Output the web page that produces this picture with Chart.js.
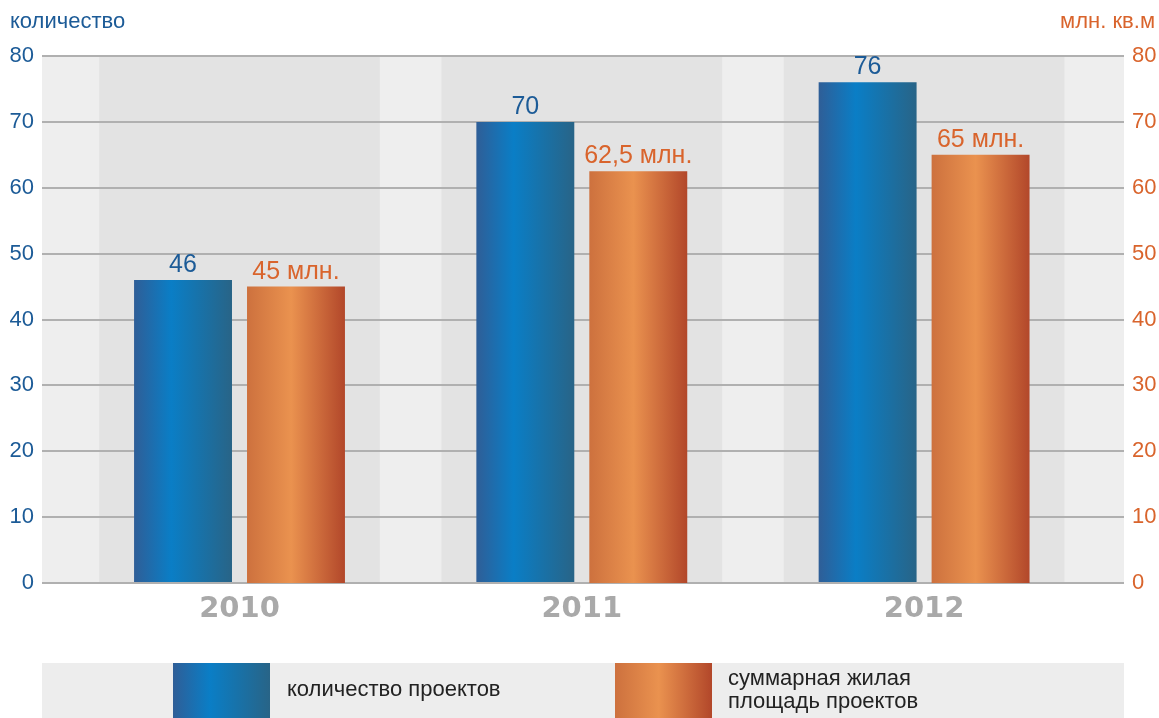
<!DOCTYPE html>
<html>
<head>
<meta charset="utf-8">
<script src="https://cdn.jsdelivr.net/npm/chart.js@4/dist/chart.umd.min.js"></script>
<style>
    html, body { margin: 0; padding: 0; background: #ffffff; }
    #wrap { width: 1159px; height: 718px; position: relative; }
</style>
</head>
<body>
<div id="wrap"><canvas id="chart"></canvas></div>
<script>
// Chart values
const years = ['2010', '2011', '2012'];
const projectCounts = [46, 70, 76];
const areaMillions = [45, 62.5, 65];
const yTicks = [0, 10, 20, 30, 40, 50, 60, 70, 80];
const seriesNames = [['количество проектов'], ['суммарная жилая', 'площадь проектов']];
const axisTitles = ['количество', 'млн. кв.м'];

const BLUE = '#1c5b97';
const ORANGE = '#d9642c';
const CAT_PCT = 0.66;
const BAR_PCT = 0.867;
const BAND_HALF = 0.41;

const blueStops = [[0, '#2f5e97'], [0.38, '#0a7ec6'], [1, '#286487']];
const orangeStops = [[0, '#cd713e'], [0.45, '#ea924f'], [1, '#b2472a']];

function hGradient(ctx, left, width, stops)
{
    const g = ctx.createLinearGradient(left, 0, left + width, 0);
    for (const s of stops) {
        g.addColorStop(s[0], s[1]);
    }
    return g;
}

// Gradient per bar, placed with the x scale
function barFill(stops)
{
    return function (c) {
        const chart = c.chart;
        const xs = chart.scales.x;
        if (!xs || c.dataIndex === undefined) {
            return stops[1][1];
        }
        const p0 = xs.getPixelForValue(0);
        const p1 = xs.getPixelForValue(1);
        const pc = xs.getPixelForValue(c.dataIndex);
        if (!Number.isFinite(p0) || !Number.isFinite(p1) || !Number.isFinite(pc) || p1 === p0) {
            return stops[1][1];
        }
        const slot = (p1 - p0) * CAT_PCT / 2;
        const bw = slot * BAR_PCT;
        const center = pc + (c.datasetIndex - 0.5) * slot;
        return hGradient(chart.ctx, center - bw / 2, bw, stops);
    };
}

const backdrop = {
    id: 'backdrop',
    beforeDraw(chart) {
        const { ctx, chartArea: a, scales: { x } } = chart;
        ctx.save();
        ctx.fillStyle = '#eeeeee';
        ctx.fillRect(a.left, a.top, a.right - a.left, a.bottom - a.top);
        ctx.fillStyle = '#e3e3e3';
        years.forEach((_, i) => {
            const l = x.getPixelForValue(i - BAND_HALF);
            const r = x.getPixelForValue(i + BAND_HALF);
            ctx.fillRect(l, a.top, r - l, a.bottom - a.top);
        });
        ctx.restore();
    }
};

const valueLabels = {
    id: 'valueLabels',
    afterDatasetsDraw(chart) {
        const ctx = chart.ctx;
        ctx.save();
        ctx.font = '25px "Liberation Sans", Arial, sans-serif';
        ctx.textAlign = 'center';
        ctx.textBaseline = 'alphabetic';
        chart.data.datasets.forEach((ds, di) => {
            const meta = chart.getDatasetMeta(di);
            ctx.fillStyle = di === 0 ? BLUE : ORANGE;
            meta.data.forEach((bar, i) => {
                const v = ds.data[i].y;
                const txt = di === 0 ? String(v) : String(v).replace('.', ',') + ' млн.';
                ctx.fillText(txt, bar.x, bar.y - 8);
            });
        });
        ctx.restore();
    }
};

const extras = {
    id: 'extras',
    afterDraw(chart) {
        const { ctx, chartArea: a } = chart;
        ctx.save();

        // axis titles
        ctx.font = '22px "Liberation Sans", Arial, sans-serif';
        ctx.textBaseline = 'alphabetic';
        ctx.fillStyle = BLUE;
        ctx.textAlign = 'left';
        ctx.fillText(axisTitles[0], chart.scales.y.left + 10, 28);
        ctx.fillStyle = ORANGE;
        ctx.textAlign = 'right';
        ctx.fillText(axisTitles[1], chart.scales.y1.right - 4, 28);

        // legend box
        const top = 663;
        ctx.fillStyle = '#ededed';
        ctx.fillRect(a.left, top, a.right - a.left, chart.height - top);

        const items = [
            { sx: 173, tx: 287, stops: blueStops },
            { sx: 615, tx: 728, stops: orangeStops },
        ];
        const sw = 97;
        ctx.font = '22px "Liberation Sans", Arial, sans-serif';
        ctx.textAlign = 'left';
        ctx.textBaseline = 'middle';
        items.forEach((it, i) => {
            ctx.fillStyle = hGradient(ctx, it.sx, sw, it.stops);
            ctx.fillRect(it.sx, top, sw, chart.height - top);
            ctx.fillStyle = '#222222';
            const lines = seriesNames[i];
            const lh = 23;
            const y0 = 690 - (lines.length - 1) * lh / 2;
            lines.forEach((ln, k) => ctx.fillText(ln, it.tx, y0 + k * lh));
        });

        ctx.restore();
    }
};

const tickFont = { family: '"Liberation Sans", Arial, sans-serif', size: 22 };

new Chart(document.getElementById('chart'), {
    type: 'bar',
    data: {
        datasets: [
            {
                label: seriesNames[0].join(' '),
                data: projectCounts.map((v, i) => ({ x: i, y: v })),
                backgroundColor: barFill(blueStops),
                yAxisID: 'y',
                categoryPercentage: CAT_PCT,
                barPercentage: BAR_PCT,
            },
            {
                label: seriesNames[1].join(' '),
                data: areaMillions.map((v, i) => ({ x: i, y: v })),
                backgroundColor: barFill(orangeStops),
                yAxisID: 'y1',
                categoryPercentage: CAT_PCT,
                barPercentage: BAR_PCT,
            },
        ]
    },
    options: {
        responsive: true,
        maintainAspectRatio: false,
        animation: false,
        layout: { padding: { top: 56, left: 0, right: 0, bottom: 0 } },
        plugins: {
            legend: { display: false },
            tooltip: { enabled: false },
        },
        scales: {
            x: {
                type: 'linear',
                offset: false,
                min: -0.577,
                max: 2.584,
                afterBuildTicks: (s) => { s.ticks = years.map((_, i) => ({ value: i })); },
                afterFit: (s) => { s.height = 135; },
                grid: { display: false },
                border: { display: false },
                ticks: {
                    padding: 1,
                    color: '#a9a9a9',
                    font: { family: '"DejaVu Sans", Verdana, sans-serif', size: 29, weight: 'bold' },
                    callback: (v) => years[v] ?? '',
                },
            },
            y: {
                position: 'left',
                min: 0,
                max: 80,
                afterBuildTicks: (s) => { s.ticks = yTicks.map(v => ({ value: v })); },
                afterFit: (s) => { s.width = 42; },
                grid: { color: '#b0b0b0', lineWidth: 2, drawTicks: false },
                border: { display: false },
                ticks: { color: BLUE, font: tickFont, padding: 8 },
            },
            y1: {
                position: 'right',
                min: 0,
                max: 80,
                afterBuildTicks: (s) => { s.ticks = yTicks.map(v => ({ value: v })); },
                afterFit: (s) => { s.width = 35; },
                grid: { display: false, drawTicks: false },
                border: { display: false },
                ticks: { color: ORANGE, font: tickFont, padding: 8 },
            },
        }
    },
    plugins: [backdrop, valueLabels, extras]
});
</script>
</body>
</html>
